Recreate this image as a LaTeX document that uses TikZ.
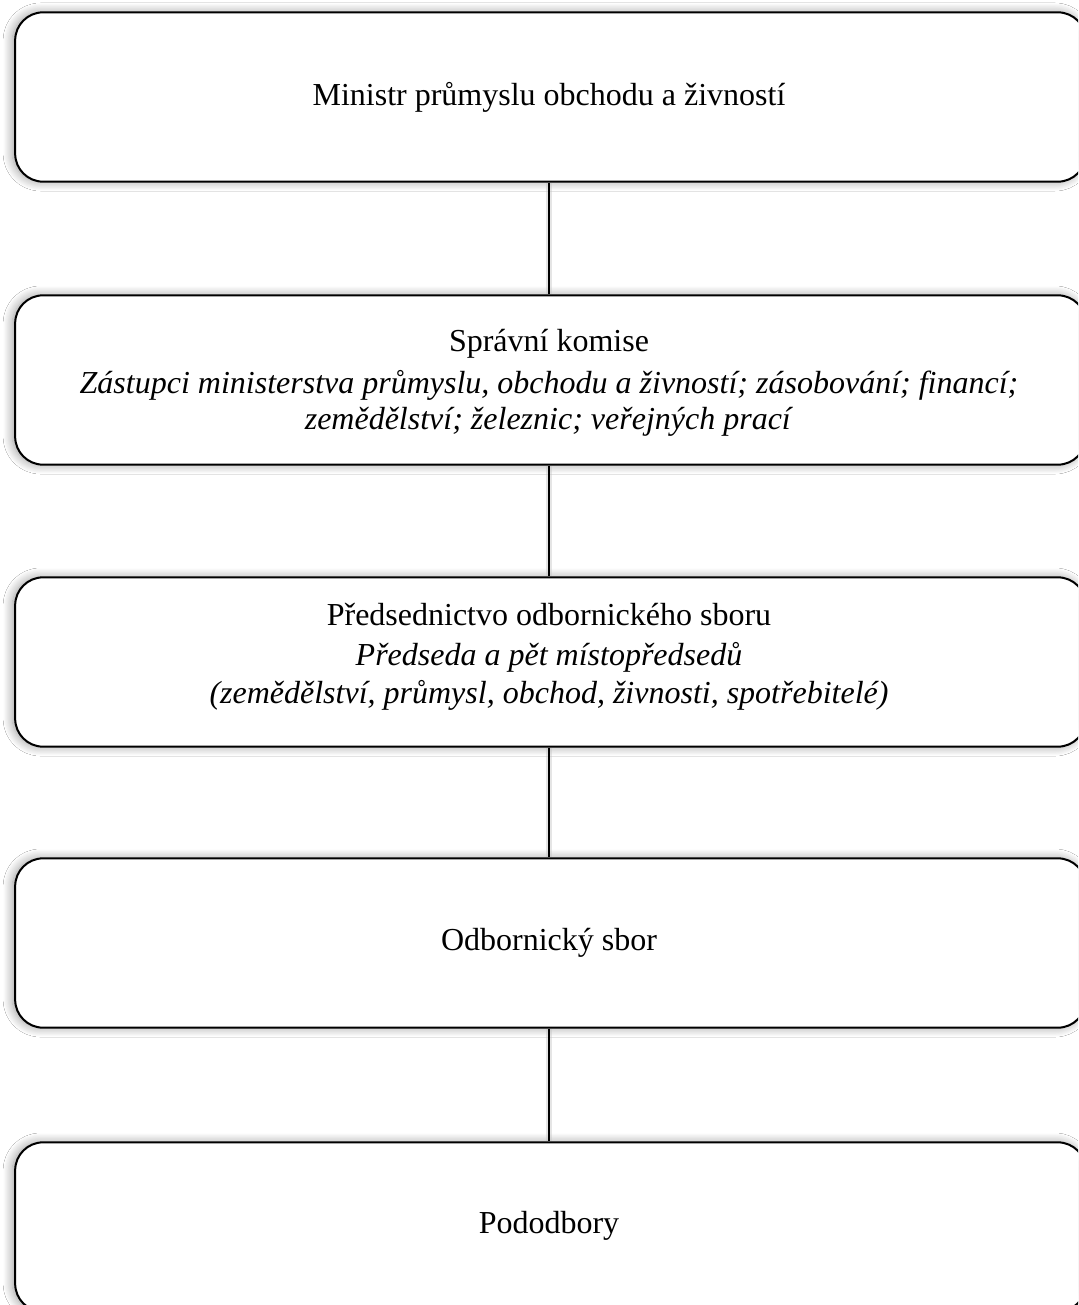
\documentclass[tikz,border=0pt]{standalone}
\usepackage{fontspec}
\setmainfont{Liberation Serif}
\usetikzlibrary{shadows.blur}
\begin{document}
\begin{tikzpicture}[x=0.75pt,y=-0.75pt,
  box/.style={draw=black, line width=1.5pt, fill=white, rounded corners=21pt,
    minimum width=803pt, minimum height=127pt, inner sep=0pt,
    blur shadow={shadow xshift=-2pt, shadow yshift=0pt, shadow blur radius=7pt,
      shadow blur steps=12, shadow opacity=40}},
  txt/.style={align=center, inner sep=0pt, font=\fontsize{24}{30}\selectfont},
  link/.style={line width=1.5pt, preaction={draw=black!25, line width=5pt, opacity=0.4}}]
\clip (0,0) rectangle (1078,1305);
\fill[white] (0,0) rectangle (1078,1305);
\node[box] (b1) at (550.5,97) {};
\node[box] (b2) at (550.5,380) {};
\node[box] (b3) at (550.5,662) {};
\node[box] (b4) at (550.5,943) {};
\node[box] (b5) at (550.5,1227) {};
\draw[link] (b1.south -| 549,0) -- (b2.north -| 549,0);
\draw[link] (b2.south -| 549,0) -- (b3.north -| 549,0);
\draw[link] (b3.south -| 549,0) -- (b4.north -| 549,0);
\draw[link] (b4.south -| 549,0) -- (b5.north -| 549,0);
\node[txt] (t1) at (549,97) {Ministr průmyslu obchodu a živností};
\node[txt] (t2) at (549,383) {Správní komise\\[1.5pt]
  \textit{Zástupci ministerstva průmyslu, obchodu a živností; zásobování; financí;}\\[-3pt]
  \textit{zemědělství; železnic; veřejných prací}};
\node[txt] (t3) at (549,657) {Předsednictvo odbornického sboru\\
  \textit{Předseda a pět místopředsedů}\\[-1.5pt]
  \textit{(zemědělství, průmysl, obchod, živnosti, spotřebitelé)}};
\node[txt] (t4) at (549,943) {Odbornický sbor};
\node[txt] (t5) at (549,1226) {Pododbory};
\end{tikzpicture}
\end{document}
